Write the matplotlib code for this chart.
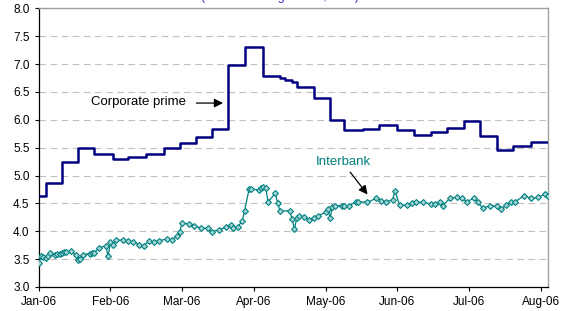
import calendar
import numpy as np
import pandas as pd
import matplotlib
matplotlib.use('Agg')
import matplotlib.pyplot as plt

plt.rcParams['font.family'] = ['Liberation Sans', 'DejaVu Sans']

# --- Data ---
MONTH_LABELS = ['Jan-06', 'Feb-06', 'Mar-06', 'Apr-06', 'May-06', 'Jun-06', 'Jul-06', 'Aug-06']

# Corporate prime: weekly values, held until next change
PRIME_DATES = ['2006-01-01', '2006-01-04', '2006-01-11', '2006-01-18', '2006-01-25',
               '2006-02-02', '2006-02-08', '2006-02-15', '2006-02-22', '2006-02-28',
               '2006-03-07', '2006-03-14', '2006-03-21', '2006-03-28', '2006-04-05',
               '2006-04-12', '2006-04-14', '2006-04-17', '2006-04-19', '2006-04-26',
               '2006-05-03', '2006-05-09', '2006-05-17', '2006-05-24', '2006-06-01',
               '2006-06-08', '2006-06-15', '2006-06-22', '2006-06-29', '2006-07-06',
               '2006-07-13', '2006-07-20', '2006-07-28', '2006-08-04']
PRIME_VALUES = [4.64, 4.86, 5.24, 5.50, 5.38,
                5.30, 5.34, 5.38, 5.50, 5.59,
                5.69, 5.83, 6.98, 7.30, 6.79,
                6.75, 6.71, 6.68, 6.58, 6.39,
                5.99, 5.82, 5.84, 5.90, 5.81,
                5.73, 5.78, 5.86, 5.98, 5.71,
                5.46, 5.53, 5.61, 5.61]

# Interbank: daily observations
INTERBANK_DATES = ['2006-01-01', '2006-01-02', '2006-01-03', '2006-01-04', '2006-01-05',
                   '2006-01-06', '2006-01-08', '2006-01-09', '2006-01-10', '2006-01-11',
                   '2006-01-12', '2006-01-13', '2006-01-15', '2006-01-17', '2006-01-18',
                   '2006-01-19', '2006-01-20', '2006-01-23', '2006-01-24', '2006-01-25',
                   '2006-01-27', '2006-01-30', '2006-01-31',
                   '2006-02-01', '2006-02-02', '2006-02-03', '2006-02-06', '2006-02-08',
                   '2006-02-10', '2006-02-12', '2006-02-14', '2006-02-16', '2006-02-18',
                   '2006-02-20', '2006-02-23', '2006-02-25', '2006-02-27', '2006-02-28',
                   '2006-03-01', '2006-03-04', '2006-03-06', '2006-03-09', '2006-03-12',
                   '2006-03-14', '2006-03-17', '2006-03-20', '2006-03-22', '2006-03-23',
                   '2006-03-25', '2006-03-27', '2006-03-28', '2006-03-30', '2006-03-31',
                   '2006-04-03', '2006-04-04', '2006-04-05', '2006-04-06', '2006-04-07',
                   '2006-04-10', '2006-04-11', '2006-04-12', '2006-04-16', '2006-04-17',
                   '2006-04-18', '2006-04-19', '2006-04-20', '2006-04-22', '2006-04-24',
                   '2006-04-26', '2006-04-28',
                   '2006-05-01', '2006-05-02', '2006-05-03', '2006-05-04', '2006-05-05',
                   '2006-05-08', '2006-05-09', '2006-05-11', '2006-05-14', '2006-05-15',
                   '2006-05-19', '2006-05-23', '2006-05-25', '2006-05-27', '2006-05-30',
                   '2006-05-31',
                   '2006-06-02', '2006-06-05', '2006-06-07', '2006-06-09', '2006-06-12',
                   '2006-06-15', '2006-06-17', '2006-06-19', '2006-06-20', '2006-06-23',
                   '2006-06-26', '2006-06-28', '2006-06-30',
                   '2006-07-03', '2006-07-05', '2006-07-07', '2006-07-10', '2006-07-13',
                   '2006-07-15', '2006-07-17', '2006-07-19', '2006-07-21', '2006-07-25',
                   '2006-07-28', '2006-07-31', '2006-08-03', '2006-08-04']
INTERBANK_VALUES = [3.43, 3.56, 3.54, 3.52, 3.56,
                    3.61, 3.58, 3.60, 3.60, 3.61,
                    3.62, 3.63, 3.64, 3.58, 3.48,
                    3.50, 3.58, 3.60, 3.61, 3.61,
                    3.70, 3.74, 3.55,
                    3.80, 3.76, 3.84, 3.84, 3.82,
                    3.81, 3.76, 3.74, 3.82, 3.81,
                    3.83, 3.86, 3.85, 3.91, 3.98,
                    4.15, 4.13, 4.10, 4.06, 4.05,
                    3.99, 4.03, 4.07, 4.11, 4.06,
                    4.08, 4.18, 4.37, 4.76, 4.76,
                    4.74, 4.78, 4.79, 4.77, 4.53,
                    4.68, 4.50, 4.36, 4.37, 4.22,
                    4.04, 4.24, 4.28, 4.25, 4.21,
                    4.24, 4.28,
                    4.34, 4.40, 4.24, 4.43, 4.46,
                    4.46, 4.45, 4.45, 4.53, 4.53,
                    4.52, 4.59, 4.55, 4.53, 4.56,
                    4.73,
                    4.47, 4.47, 4.50, 4.52, 4.52,
                    4.49, 4.49, 4.53, 4.46, 4.59,
                    4.61, 4.59, 4.53,
                    4.59, 4.52, 4.41, 4.46, 4.45,
                    4.40, 4.47, 4.52, 4.53, 4.64,
                    4.59, 4.61, 4.67, 4.64]


def month_pos(dates):
    # position in months since Jan-06, each month the same width (as on the original axis)
    out = []
    for d in pd.to_datetime(dates):
        ndays = calendar.monthrange(d.year, d.month)[1]
        out.append((d.month - 1) + (d.day - 1) / ndays)
    return np.array(out)


prime_x = month_pos(PRIME_DATES)
inter_x = month_pos(INTERBANK_DATES)

fig = plt.figure(figsize=(5.74, 3.11), dpi=100)
ax = fig.add_axes([0.0674, 0.0772, 0.8873, 0.8961])

ax.plot(prime_x, PRIME_VALUES, color='#000080', lw=1.8, drawstyle='steps-post', zorder=3)
ax.plot(inter_x, INTERBANK_VALUES, color='#008080', lw=0.9, marker='D', markersize=3.0,
        markerfacecolor='#a8d4d4', markeredgecolor='#008080', markeredgewidth=0.8, zorder=3)

ax.set_xlim(0, 7.103)
ax.set_ylim(3.0, 8.0)
ax.set_yticks(np.arange(3.0, 8.01, 0.5))
ax.set_yticklabels([f'{v:.1f}' for v in np.arange(3.0, 8.01, 0.5)])
ax.set_xticks(range(len(MONTH_LABELS)))
ax.set_xticklabels(MONTH_LABELS)
ax.tick_params(labelsize=8.5, length=3, width=0.8, color='black', labelcolor='black')

ax.grid(axis='y', color='#c0c0c0', linestyle=(0, (6, 4)), lw=0.8)
ax.set_axisbelow(True)
for side in ['left', 'bottom']:
    ax.spines[side].set_color('black')
    ax.spines[side].set_linewidth(0.9)
for side in ['top', 'right']:
    ax.spines[side].set_color('#a0a0a0')
    ax.spines[side].set_linewidth(1.0)

# annotations
ax.annotate('', xy=(2.61, 6.30), xytext=(2.16, 6.30),
            arrowprops=dict(arrowstyle='-|>', color='black', lw=0.9, mutation_scale=13))
ax.text(0.73, 6.32, 'Corporate prime', fontsize=9.5, color='black', va='center')
ax.annotate('', xy=(4.61, 4.62), xytext=(4.32, 5.10),
            arrowprops=dict(arrowstyle='-|>', color='black', lw=0.9, mutation_scale=13))
ax.text(3.86, 5.25, 'Interbank', fontsize=9.5, color='#008080', va='center')

# title, mostly cut off at the top of the picture
fig.text(0.488, 1.0, '(annual average rates, in %)', fontsize=9, color='#3333cc',
         ha='center', va='baseline')

fig.savefig('out.png', dpi=100)
